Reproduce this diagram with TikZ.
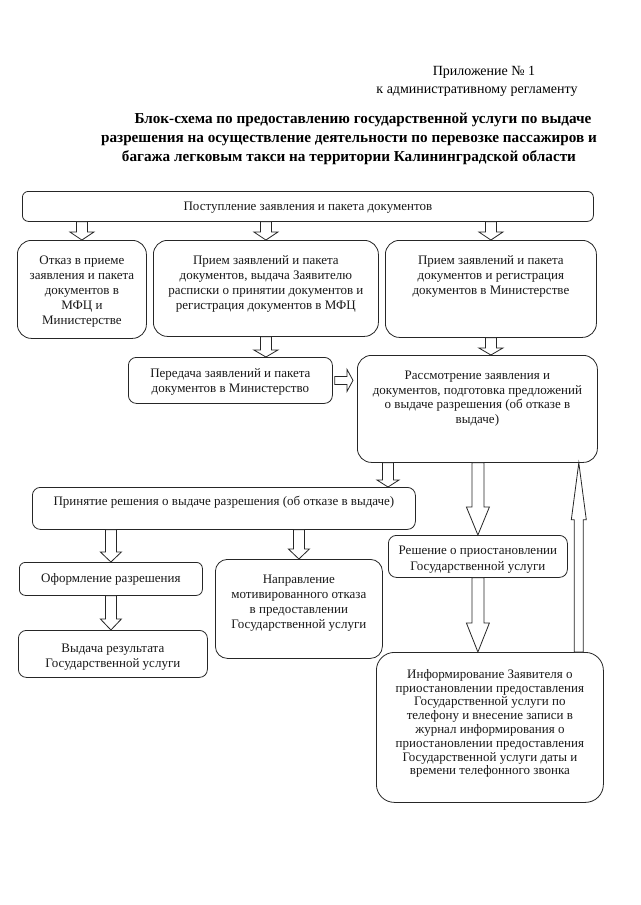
\documentclass[tikz,border=0pt]{standalone}
\usepackage{fontspec}
\setmainfont{Liberation Serif}
\usetikzlibrary{calc}
\tikzset{
  box/.style={draw=black!85, line width=0.8pt, anchor=north west, inner sep=0pt, fill=white},
  txt/.style={anchor=north, align=center, inner sep=0pt, font=\fontsize{13}{15}\selectfont, text=black!90},
  barrow/.style={draw=black!85, line width=0.8pt, fill=white, line join=miter},
  head/.style={font=\fontsize{14}{18}\selectfont, inner sep=0pt, anchor=base},
  title/.style={font=\bfseries\fontsize{15.2}{19}\selectfont, inner sep=0pt, anchor=base},
}
% down block arrow: start, end, shaft half width, head half width, head length
\newcommand\darr[5]{\draw[barrow] let \p1=#1, \p2=#2 in
  (\x1-#3pt,\y1) -- (\x1+#3pt,\y1) -- (\x1+#3pt,\y2+#5pt) -- (\x1+#4pt,\y2+#5pt) --
  (\x1,\y2) -- (\x1-#4pt,\y2+#5pt) -- (\x1-#3pt,\y2+#5pt) -- cycle;}
\newcommand\uarr[5]{\draw[barrow] let \p1=#1, \p2=#2 in
  (\x1-#3pt,\y1) -- (\x1+#3pt,\y1) -- (\x1+#3pt,\y2-#5pt) -- (\x1+#4pt,\y2-#5pt) --
  (\x1,\y2) -- (\x1-#4pt,\y2-#5pt) -- (\x1-#3pt,\y2-#5pt) -- cycle;}
\newcommand\rarr[5]{\draw[barrow] let \p1=#1, \p2=#2 in
  (\x1,\y1-#3pt) -- (\x1,\y1+#3pt) -- (\x2-#5pt,\y1+#3pt) -- (\x2-#5pt,\y1+#4pt) --
  (\x2,\y1) -- (\x2-#5pt,\y1-#4pt) -- (\x2-#5pt,\y1-#3pt) -- cycle;}
\begin{document}
\begin{tikzpicture}[x=1pt,y=-1pt]
\useasboundingbox[fill=white] (0,0) rectangle (640,905);

% header
\node[head] (h1) at (484,75) {Приложение № 1};
\node[head] (h2) at (477,93) {к административному регламенту};
\node[title] (t1) at (363,123) {Блок-схема по предоставлению государственной услуги по выдаче};
\node[title] (t2) at (349,142) {разрешения на осуществление деятельности по перевозке пассажиров и};
\node[title] (t3) at (349,161) {багажа легковым такси на территории Калининградской области};

% boxes
\node[box, rounded corners=6pt, minimum width=571pt, minimum height=30pt] (top) at (22,191) {};
\node[box, rounded corners=14pt, minimum width=129pt, minimum height=98pt] (otk) at (17,240) {};
\node[box, rounded corners=14pt, minimum width=225pt, minimum height=96pt] (pm) at (153,240) {};
\node[box, rounded corners=14pt, minimum width=211pt, minimum height=97pt] (pmin) at (385,240) {};
\node[box, rounded corners=8pt, minimum width=204pt, minimum height=46pt] (per) at (128,357) {};
\node[box, rounded corners=14pt, minimum width=240pt, minimum height=107pt] (ras) at (357,355) {};
\node[box, rounded corners=8pt, minimum width=383pt, minimum height=42pt] (prin) at (32,487) {};
\node[box, rounded corners=6pt, minimum width=183pt, minimum height=33pt] (of) at (19,562) {};
\node[box, rounded corners=12pt, minimum width=167pt, minimum height=99pt] (napr) at (215,559) {};
\node[box, rounded corners=8pt, minimum width=189pt, minimum height=47pt] (vyd) at (18,630) {};
\node[box, rounded corners=8pt, minimum width=179pt, minimum height=42pt] (resh) at (388,535) {};
\node[box, rounded corners=18pt, minimum width=227pt, minimum height=150pt] (inf) at (376,652) {};

% texts
\node[txt, anchor=center] (topT) at ([yshift=-1.5pt]top.center) {Поступление заявления и пакета документов};
\node[txt] (otkT) at ([yshift=-15.5pt]otk.north) {Отказ в приеме\\заявления и пакета\\документов в\\МФЦ и\\Министерстве};
\node[txt] (pmT) at ([yshift=-15.5pt]pm.north) {Прием заявлений и пакета\\документов, выдача Заявителю\\расписки о принятии документов и\\регистрация документов в МФЦ};
\node[txt] (pminT) at ([yshift=-15.5pt]pmin.north) {Прием заявлений и пакета\\документов и регистрация\\документов в Министерстве};
\node[txt] (perT) at ([yshift=-11pt]per.north) {Передача заявлений и пакета\\документов в Министерство};
\node[txt, font=\fontsize{13}{14.5}\selectfont] (rasT) at ([yshift=-16pt]ras.north) {Рассмотрение заявления и\\документов, подготовка предложений\\о выдаче разрешения (об отказе в\\выдаче)};
\node[txt] (prinT) at ([yshift=-9pt]prin.north) {Принятие решения о выдаче разрешения (об отказе в выдаче)};
\node[txt] (ofT) at ([yshift=-11pt]of.north) {Оформление разрешения};
\node[txt] (naprT) at ([yshift=-16pt]napr.north) {Направление\\мотивированного отказа\\в предоставлении\\Государственной услуги};
\node[txt, font=\fontsize{13}{14.5}\selectfont] (vydT) at ([yshift=-14pt]vyd.north) {Выдача результата\\Государственной услуги};
\node[txt, font=\fontsize{13}{16}\selectfont] (reshT) at ([yshift=-11pt]resh.north) {Решение о приостановлении\\Государственной услуги};
\node[txt, font=\fontsize{13}{13.8}\selectfont] (infT) at ([yshift=-17pt]inf.north) {Информирование Заявителя о\\приостановлении предоставления\\Государственной услуги по\\телефону и внесение записи в\\журнал информирования о\\приостановлении предоставления\\Государственной услуги даты и\\времени телефонного звонка};

% helper coordinates
\coordinate (a5) at ([xshift=31pt]ras.south west);
\coordinate (up) at ([xshift=-19pt]ras.south east);
\coordinate (rs) at ([xshift=2pt]per.east);
\coordinate (re) at ([xshift=-4pt]ras.west |- per.east);

% arrows
\darr{(top.south -| otk.north)}{(otk.north)}{5.5}{12}{8}
\darr{(top.south -| pm.north)}{(pm.north)}{5.5}{12}{8}
\darr{(top.south -| pmin.north)}{(pmin.north)}{5.5}{12}{8}
\darr{(pm.south)}{(pm.south |- per.north)}{5.5}{12}{7}
\darr{(pmin.south)}{(pmin.south |- ras.north)}{5.5}{12}{7}
\rarr{(rs)}{(re)}{4}{11}{6}
\darr{(a5)}{(a5 |- prin.north)}{5.5}{11}{7}
\darr{(ras.south -| resh.north)}{(resh.north)}{6}{11.5}{28}
\uarr{(inf.north -| up)}{(up)}{4.5}{7.5}{57}
\darr{(prin.south -| of.north)}{(of.north)}{5.5}{10.5}{10}
\darr{(prin.south -| napr.north)}{(napr.north)}{5.5}{10.5}{10}
\darr{(of.south)}{(of.south |- vyd.north)}{5.5}{10.5}{11}
\darr{(resh.south)}{(resh.south |- inf.north)}{6}{11.5}{29}
\end{tikzpicture}
\end{document}
